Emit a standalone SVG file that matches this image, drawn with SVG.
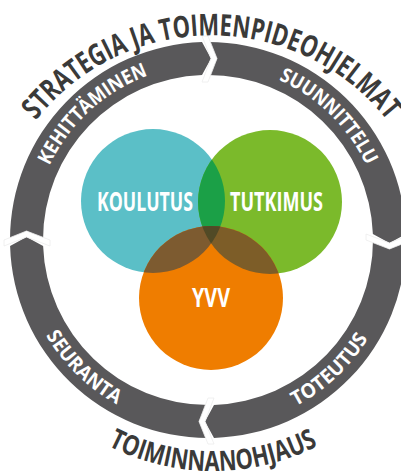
<svg xmlns="http://www.w3.org/2000/svg" xmlns:xlink="http://www.w3.org/1999/xlink" width="401" height="473" viewBox="0 0 401 473">
<style>
.seg{fill:#59585a}
.gap{fill:#ffffff;stroke:#ececec;stroke-width:0.8}
.lbl{font-family:"Open Sans","DejaVu Sans",sans-serif;font-weight:700;font-size:20px;fill:#ffffff}
.outer{font-family:"Open Sans","DejaVu Sans",sans-serif;font-weight:700;fill:#3a3a39}
.big{font-family:"Open Sans","DejaVu Sans",sans-serif;font-weight:700;font-size:26px;fill:#ffffff;text-anchor:middle}
</style>
<defs>
<path id="seg" d="M208,42 L217,58.72 L208,75 A165,165 0 0 1 372.89,234 L389.47,243 L405.91,234 A198,198 0 0 0 208,42 Z"/>
<path id="gap" d="M202,36 L211,58.5 L202,82 L208,82 L217,58.5 L208,36 Z"/>
<path id="pKeh" d="M33.17,232.37 A175,175 0 0 1 215.63,65.17"/>
<path id="pSuu" d="M205.86,65.01 A175,175 0 0 1 382.99,237.86"/>
<path id="pSeu" d="M20.01,242.30 A188,188 0 0 0 210.30,427.99"/>
<path id="pTot" d="M201.77,427.90 A188,188 0 0 0 395.90,246.23"/>
<path id="pTop" d="M-12.5,259.4 A224,224 0 0 1 435.5,259.4"/>
<path id="pBot" d="M-17,241 A230,230 0 0 0 443,241"/>
<clipPath id="cTeal"><circle cx="153" cy="201" r="72"/></clipPath>
<clipPath id="cGreen"><circle cx="270" cy="202" r="72"/></clipPath>
</defs>

<g id="connectors">
<g id="seg-suunnittelu">
<use href="#seg" class="seg"/>
<text class="lbl"><textPath href="#pSuu" startOffset="50%" text-anchor="middle" textLength="125" lengthAdjust="spacingAndGlyphs">SUUNNITTELU</textPath></text>
</g>
<g id="seg-toteutus">
<use href="#seg" class="seg" transform="rotate(90 208 240)"/>
<text class="lbl"><textPath href="#pTot" startOffset="50%" text-anchor="middle" textLength="100" lengthAdjust="spacingAndGlyphs">TOTEUTUS</textPath></text>
</g>
<g id="seg-seuranta">
<use href="#seg" class="seg" transform="rotate(180 208 240)"/>
<text class="lbl"><textPath href="#pSeu" startOffset="50%" text-anchor="middle" textLength="100" lengthAdjust="spacingAndGlyphs">SEURANTA</textPath></text>
</g>
<g id="seg-kehittaminen">
<use href="#seg" class="seg" transform="rotate(270 208 240)"/>
<text class="lbl"><textPath href="#pKeh" startOffset="50%" text-anchor="middle" textLength="137" lengthAdjust="spacingAndGlyphs">KEHITTÄMINEN</textPath></text>
</g>
<g id="gaps">
<use href="#gap" class="gap"/>
<use href="#gap" class="gap" transform="rotate(90 208 240)"/>
<use href="#gap" class="gap" transform="rotate(180 208 240)"/>
<use href="#gap" class="gap" transform="rotate(270 208 240)"/>
</g>
</g>

<g id="title-top">
<text class="outer" font-size="30"><textPath href="#pTop" startOffset="50%" text-anchor="middle" textLength="404" lengthAdjust="spacingAndGlyphs">STRATEGIA JA TOIMENPIDEOHJELMAT</textPath></text>
</g>
<g id="title-bottom">
<text class="outer" font-size="28"><textPath href="#pBot" startOffset="50%" text-anchor="middle" textLength="218" lengthAdjust="spacingAndGlyphs">TOIMINNANOHJAUS</textPath></text>
</g>

<g id="venn">
<g id="koulutus">
<circle cx="153" cy="201" r="72" fill="#5bbfc7"/>
</g>
<g id="tutkimus">
<circle cx="270" cy="202" r="72" fill="#7bba2b"/>
</g>
<g id="yvv">
<circle cx="211" cy="298" r="72" fill="#ef7d00"/>
</g>
<g id="overlaps">
<circle cx="270" cy="202" r="72" fill="#1ba047" clip-path="url(#cTeal)"/>
<circle cx="211" cy="298" r="72" fill="#7d5b30" clip-path="url(#cTeal)"/>
<circle cx="211" cy="298" r="72" fill="#7d5d28" clip-path="url(#cGreen)"/>
<g clip-path="url(#cTeal)"><circle cx="211" cy="298" r="72" fill="#514a26" clip-path="url(#cGreen)"/></g>
</g>
<text class="big" x="145" y="211" textLength="96" lengthAdjust="spacingAndGlyphs">KOULUTUS</text>
<text class="big" x="276.5" y="211" textLength="93" lengthAdjust="spacingAndGlyphs">TUTKIMUS</text>
<text class="big" x="211" y="307" textLength="38" lengthAdjust="spacingAndGlyphs">YVV</text>
</g>
</svg>
